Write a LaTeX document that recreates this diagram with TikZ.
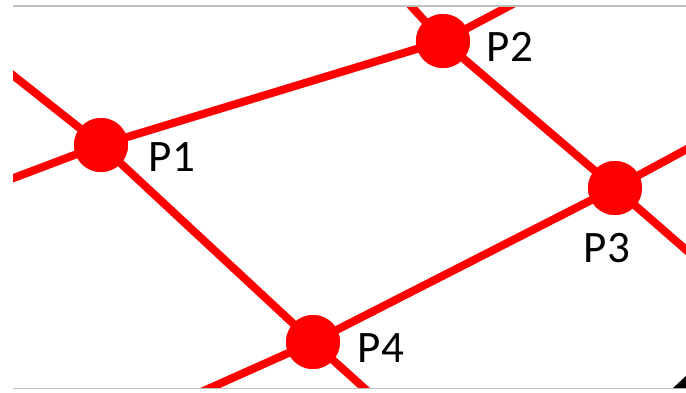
\documentclass[tikz,border=0pt]{standalone}
\usepackage{fontspec}
\setmainfont{Carlito}
\begin{document}
\begin{tikzpicture}[x=1pt,y=-1pt,
  gridline/.style={draw=red,line width=8pt},
  vertex/.style={circle,fill=red,inner sep=0pt,minimum size=54pt},
  tag/.style={font=\fontsize{45}{54}\selectfont,text=black,inner sep=0pt},
  rule/.style={draw=black!25,line width=1.5pt}]
\useasboundingbox (0,0) rectangle (686,392);
% grid points
\node[vertex] (P1) at (101,145) {};
\node[vertex] (P2) at (443,41) {};
\node[vertex] (P3) at (615,188) {};
\node[vertex] (P4) at (313,342) {};
% free ends of the grid lines, beyond the frame
\coordinate (a1) at (-5,61);
\coordinate (a2) at (-5,185);
\coordinate (b1) at (401,-5);
\coordinate (b2) at (530,-5);
\coordinate (c1) at (700,142);
\coordinate (c2) at (700,262);
\coordinate (d1) at (190,397);
\coordinate (d2) at (374,397);
\begin{scope}
  \clip (13,6) rectangle (686,388);
  \draw[gridline] (a1) -- (P1.center) -- (P4.center) -- (d2);
  \draw[gridline] (a2) -- (P1.center) -- (P2.center) -- (b2);
  \draw[gridline] (b1) -- (P2.center) -- (P3.center) -- (c2);
  \draw[gridline] (d1) -- (P4.center) -- (P3.center) -- (c1);
\end{scope}
% redraw the points above the lines
\foreach \p in {P1,P2,P3,P4} \fill[red] (\p) circle (27pt);
% labels
\node[tag] (L1) at (172,157) {P1};
\node[tag] (L2) at (510,47) {P2};
\node[tag] (L3) at (607,248) {P3};
\node[tag] (L4) at (381,348) {P4};
% frame rules
\coordinate (t1) at (13,6); \coordinate (t2) at (686,6);
\coordinate (u1) at (13,388.5); \coordinate (u2) at (686,388.5);
\draw[rule] (t1) -- (t2);
\draw[rule] (u1) -- (u2);
\fill[black] (686,376) -- (686,388) -- (673,388) -- cycle;
\end{tikzpicture}
\end{document}
